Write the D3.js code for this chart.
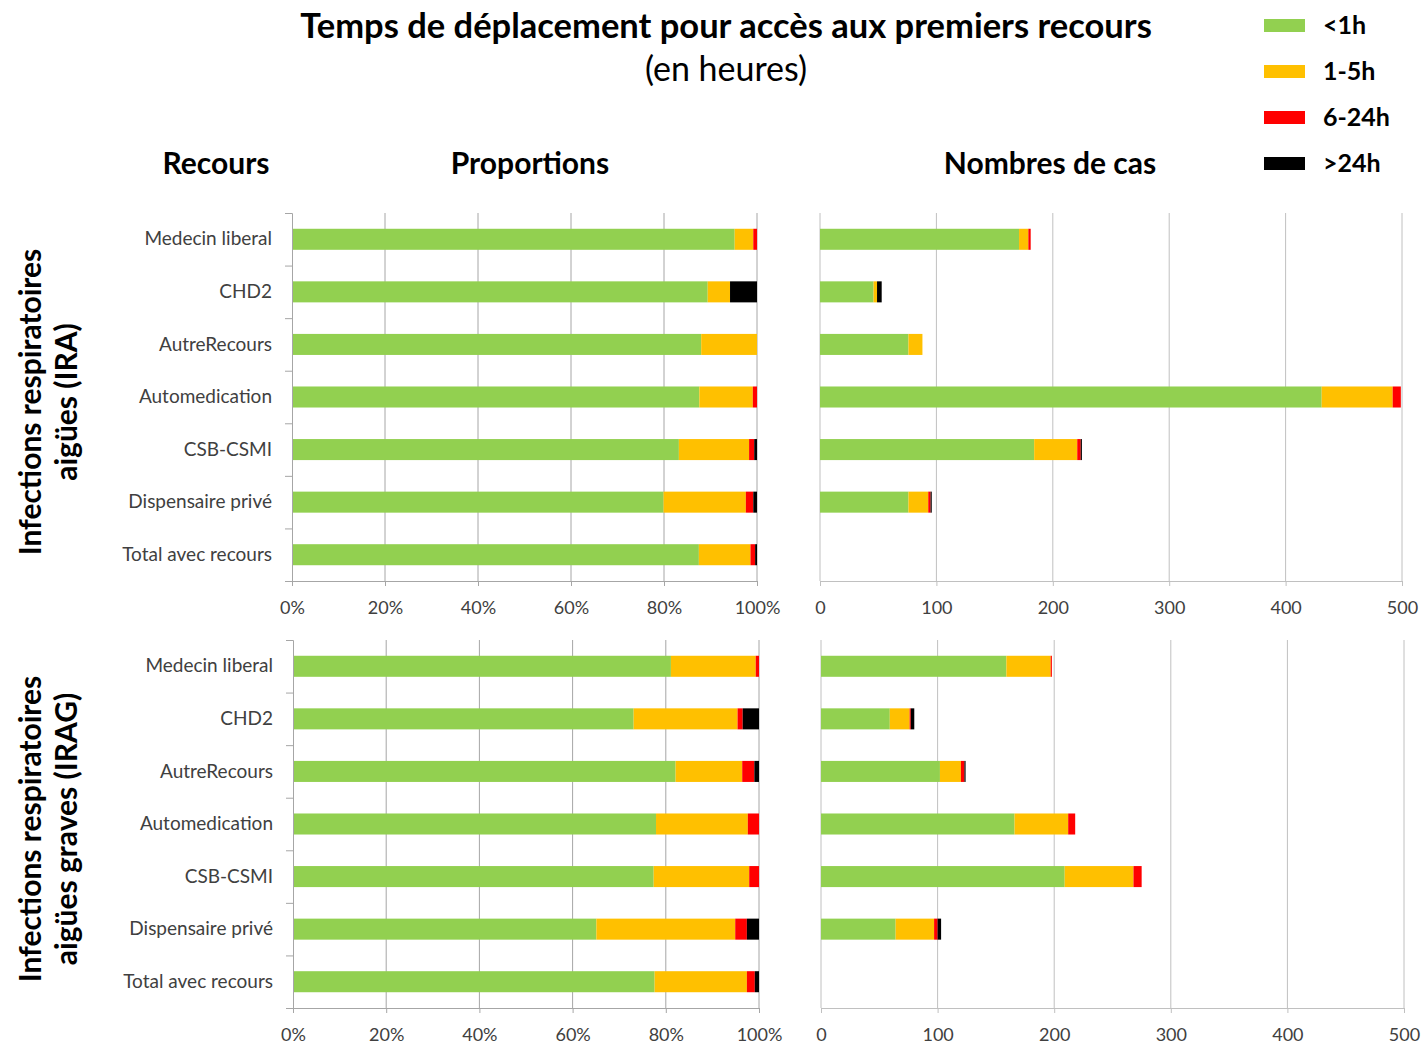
<!DOCTYPE html>
<html>
<head>
<meta charset="utf-8">
<script src="https://d3js.org/d3.v7.min.js"></script>
<style>
  body { margin: 0; background: #fff; }
  svg { font-family: Lato, "Open Sans", sans-serif; }
  .cat text { fill: #404040; font-size: 19px; }
  .xt text { fill: #404040; font-size: 18px; }
</style>
</head>
<body>
<script>
// categories and series
var categories = ["Medecin liberal", "CHD2", "AutreRecours", "Automedication",
                  "CSB-CSMI", "Dispensaire privé", "Total avec recours"];
var seriesNames = ["<1h", "1-5h", "6-24h", ">24h"];
var seriesColors = ["#92d050", "#ffc000", "#ff0000", "#000000"];

// IRA - proportions (%) : <1h, 1-5h, 6-24h, >24h
var iraPct = [
  [95.2, 4.0, 0.8, 0],
  [89.4, 4.8, 0, 5.8],
  [88.0, 12.0, 0, 0],
  [87.6, 11.5, 0.9, 0],
  [83.2, 15.1, 1.1, 0.6],
  [79.9, 17.7, 1.6, 0.8],
  [87.5, 11.1, 1.0, 0.4]
];
// IRA - nombres de cas (no bar for the total row)
var iraCount = [
  [171, 8, 2, 0],
  [46, 3, 0, 4],
  [76, 12, 0, 0],
  [431, 61, 7, 0],
  [184, 37, 3, 1],
  [76, 17, 2, 1],
  null
];
// IRAG - proportions (%)
var iragPct = [
  [81.1, 18.2, 0.7, 0],
  [73.1, 22.3, 1.1, 3.5],
  [82.1, 14.3, 2.6, 1.0],
  [77.9, 19.7, 2.4, 0],
  [77.4, 20.5, 2.1, 0],
  [65.1, 29.8, 2.5, 2.6],
  [77.6, 19.8, 1.7, 0.9]
];
// IRAG - nombres de cas
var iragCount = [
  [159, 38, 1, 0],
  [59, 17, 1, 3],
  [102, 18, 3, 1],
  [166, 46, 6, 0],
  [209, 59, 7, 0],
  [64, 33, 3, 3],
  null
];

var pctTicks = [0, 20, 40, 60, 80, 100];
var countTicks = [0, 100, 200, 300, 400, 500];

var svg = d3.select("body").append("svg")
    .attr("width", 1425)
    .attr("height", 1045);

// titles
svg.append("text")
    .attr("x", 726).attr("y", 38)
    .attr("text-anchor", "middle")
    .style("font-size", "34.5px").style("font-weight", "bold")
    .text("Temps de déplacement pour accès aux premiers recours");
svg.append("text")
    .attr("x", 726).attr("y", 81)
    .attr("text-anchor", "middle")
    .style("font-size", "34px")
    .text("(en heures)");

// column headers
[["Recours", 216], ["Proportions", 530], ["Nombres de cas", 1050]].forEach(function(h){
  svg.append("text")
      .attr("x", h[1]).attr("y", 174)
      .attr("text-anchor", "middle")
      .style("font-size", "30px").style("font-weight", "bold")
      .text(h[0]);
});

// legend
seriesNames.forEach(function(s, i){
  var y = 19 + i * 46;
  svg.append("rect")
      .attr("x", 1264).attr("y", y)
      .attr("width", 41).attr("height", 13)
      .attr("fill", seriesColors[i]);
  svg.append("text")
      .attr("x", 1323).attr("y", y + 15)
      .style("font-size", "25px").style("font-weight", "bold")
      .text(s);
});

var panels = [
  {lines: ["Infections respiratoires", "aigües (IRA)"], pct: iraPct, count: iraCount,
   top: 213, bottom: 581, lx0: 292, lx1: 757, rx0: 820, rx1: 1402},
  {lines: ["Infections respiratoires", "aigües graves (IRAG)"], pct: iragPct, count: iragCount,
   top: 640, bottom: 1008, lx0: 293, lx1: 759, rx0: 821, rx1: 1404}
];

var stack = d3.stack().keys([0, 1, 2, 3]);

function drawPanel(p, data, x, ticks, fmt, gridColor, leftAxis){
  var g = svg.append("g");

  var y = d3.scaleBand()
      .domain(categories)
      .range([p.top, p.bottom])
      .paddingInner(0.6)
      .paddingOuter(0.3);

  // vertical gridlines
  g.selectAll(".grid")
      .data(ticks.filter(function(t){ return leftAxis ? t > 0 : true; }))
    .enter().append("line")
      .attr("x1", function(d){ return x(d); })
      .attr("x2", function(d){ return x(d); })
      .attr("y1", p.top).attr("y2", p.bottom)
      .attr("stroke", gridColor).attr("stroke-width", 1);

  // stacked bars
  var rows = [];
  data.forEach(function(r, i){ if (r) rows.push({cat: categories[i], v: r}); });
  var series = stack.value(function(d, k){ return d.v[k]; })(rows);

  g.selectAll(".serie")
      .data(series)
    .enter().append("g")
      .attr("fill", function(d, i){ return seriesColors[i]; })
    .selectAll("rect")
      .data(function(d){ return d; })
    .enter().append("rect")
      .attr("x", function(d){ return x(d[0]); })
      .attr("width", function(d){ return Math.max(0, x(d[1]) - x(d[0])); })
      .attr("y", function(d){ return y(d.data.cat); })
      .attr("height", y.bandwidth());

  // x axis
  var xa = g.append("g")
      .attr("class", "xt")
      .attr("transform", "translate(0," + p.bottom + ")")
      .call(d3.axisBottom(x).tickValues(ticks).tickFormat(fmt).tickSize(5).tickPadding(15));
  xa.select(".domain").attr("stroke", gridColor);
  xa.selectAll(".tick line").attr("stroke", gridColor);
  xa.selectAll("text").style("font-family", "Lato, sans-serif");

  if (leftAxis) {
    // y axis line with ticks at category boundaries
    var yb = d3.scaleLinear().domain([0, categories.length]).range([p.top, p.bottom]);
    var ya = g.append("g")
        .attr("transform", "translate(" + x(0) + ",0)")
        .call(d3.axisLeft(yb).ticks(categories.length).tickSize(7).tickFormat(""));
    ya.select(".domain").attr("stroke", gridColor);
    ya.selectAll(".tick line").attr("stroke", gridColor);

    // category labels
    var ca = g.append("g")
        .attr("class", "cat")
        .attr("transform", "translate(" + x(0) + ",0)")
        .call(d3.axisLeft(y).tickSize(0).tickPadding(20));
    ca.select(".domain").remove();
    ca.selectAll("text").style("font-family", "Lato, sans-serif");
  }
}

panels.forEach(function(p){
  var xl = d3.scaleLinear().domain([0, 100]).range([p.lx0, p.lx1]);
  var xr = d3.scaleLinear().domain([0, 500]).range([p.rx0, p.rx1]);
  drawPanel(p, p.pct, xl, pctTicks, function(d){ return d + "%"; }, "#a6a6a6", true);
  drawPanel(p, p.count, xr, countTicks, d3.format("d"), "#c0c0c0", false);

  // rotated group label
  var cy = (p.top + p.bottom) / 2 + 5;
  p.lines.forEach(function(t, i){
    svg.append("text")
        .attr("transform", "translate(" + (30 + i * 36) + "," + cy + ") rotate(-90)")
        .attr("text-anchor", "middle")
        .attr("dy", "0.35em")
        .style("font-size", "30px").style("font-weight", "bold")
        .text(t);
  });
});
</script>
</body>
</html>
